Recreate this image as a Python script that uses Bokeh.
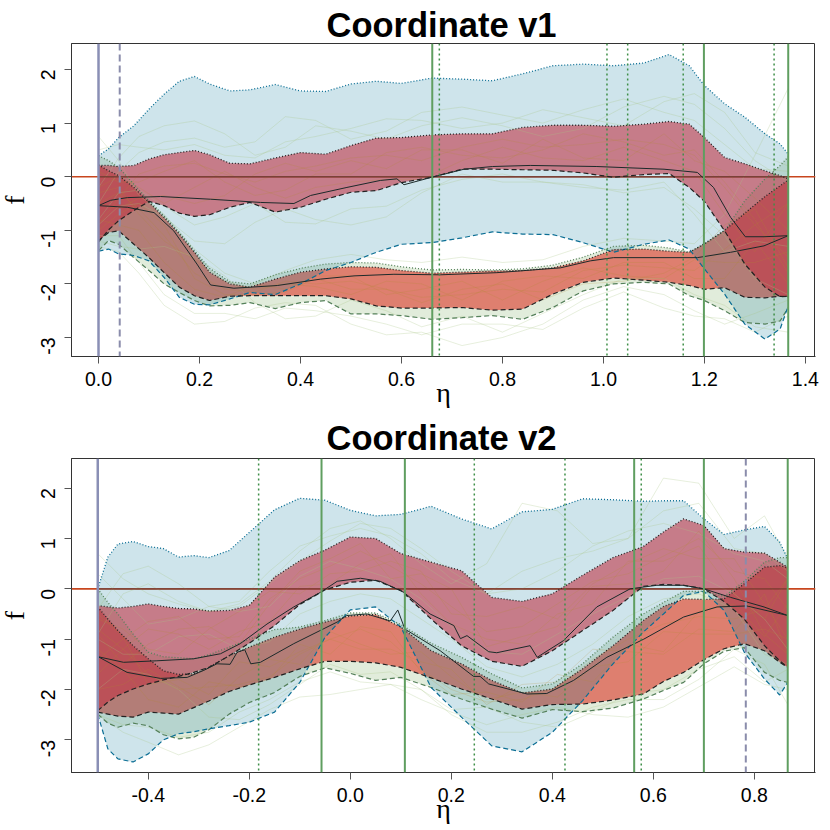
#!/usr/bin/env python
# coding: utf-8
import math
from bokeh.plotting import figure
from bokeh.layouts import column
from bokeh.models import FixedTicker, Range1d, Span
from bokeh.embed import file_html
from bokeh.resources import INLINE

y_ticks = [-3, -2, -1, 0, 1, 2]

# Coordinate v1
eta1 = [0, .02, .04, .07, .1, .13, .16, .19, .22, .26, .3, .35, .4, .45, .5, .55, .6, .66, .72, .78, .84, .9, .96,
        1.02, 1.08, 1.13, 1.17, 1.2, 1.24, 1.28, 1.32, 1.35, 1.366]
blue_up1 = [.39, .52, .73, .95, 1.26, 1.54, 1.78, 1.87, 1.73, 1.60, 1.62, 1.72, 1.60, 1.59, 1.73, 1.78, 1.74, 1.84,
            1.82, 1.79, 1.92, 2.07, 2.10, 2.07, 2.12, 2.28, 2.07, 1.70, 1.36, 1.11, .80, .61, .42]
blue_lo1 = [-1.39, -1.35, -1.44, -1.47, -1.57, -1.88, -2.25, -2.38, -2.39, -2.28, -2.16, -2.20, -2.0, -1.75, -1.60,
            -1.41, -1.26, -1.23, -1.14, -1.03, -1.07, -1.08, -1.23, -1.41, -1.26, -1.18, -1.35, -1.72, -2.19, -2.75,
            -3.03, -2.84, -2.41]
red_a_up1 = [.21, .21, .19, .21, .33, .41, .45, .49, .41, .25, .24, .35, .45, .42, .58, .72, .73, .78, .80, .80, .92,
             .96, .96, .94, .98, 1.03, .98, .73, .36, .24, .11, .02, -.04]
red_a_lo1 = [-1.22, -.99, -.82, -.63, -.46, -.54, -.68, -.74, -.71, -.57, -.48, -.66, -.57, -.42, -.29, -.26, -.11,
             -.01, .14, .14, .13, .12, .07, -.01, .04, .06, -.20, -.46, -1.01, -1.63, -2.06, -2.24, -2.23]
red_b_up1 = [.22, .11, .02, -.20, -.48, -.76, -1.07, -1.41, -1.78, -2.0, -2.06, -1.91, -1.78, -1.72, -1.68, -1.69,
             -1.75, -1.80, -1.78, -1.76, -1.75, -1.70, -1.57, -1.36, -1.35, -1.39, -1.41, -1.25, -1.0, -.68, -.37,
             -.17, -.06]
red_b_lo1 = [-1.19, -1.04, -1.01, -1.26, -1.51, -1.79, -2.06, -2.22, -2.31, -2.23, -2.22, -2.22, -2.22, -2.22, -2.28,
             -2.41, -2.45, -2.45, -2.44, -2.49, -2.47, -2.19, -1.97, -1.89, -1.93, -1.97, -2.03, -2.10, -2.07, -2.25,
             -2.26, -2.23, -2.24]
green_up1 = [.39, .30, .17, -.14, -.45, -.73, -1.04, -1.38, -1.71, -1.96, -2.0, -1.83, -1.71, -1.63, -1.60, -1.61,
             -1.68, -1.74, -1.73, -1.74, -1.72, -1.65, -1.50, -1.30, -1.28, -1.33, -1.41, -1.26, -1.01, -.45, -.04,
             .21, .37]
green_lo1 = [-1.38, -1.19, -1.26, -1.51, -1.75, -2.0, -2.16, -2.31, -2.41, -2.40, -2.35, -2.46, -2.35, -2.31, -2.56,
             -2.56, -2.59, -2.66, -2.63, -2.59, -2.66, -2.44, -2.13, -2.0, -1.97, -2.0, -2.22, -2.31, -2.50, -2.72,
             -2.75, -2.69, -2.44]
black_a_x1 = [0, .024, .057, .123, .222, .321, .387, .42, .492, .558, .591, .605, .66, .724, .78, .855, .987, 1.12,
              1.186, 1.218, 1.252, 1.281, 1.318, 1.366]
black_a_y1 = [-.54, -.44, -.39, -.37, -.42, -.48, -.50, -.35, -.20, -.07, -.04, -.15, -.01, .14, .19, .21, .19, .14,
              .08, -.20, -.76, -1.12, -1.12, -1.10]
black_b_x1 = [0, .057, .11, .149, .195, .222, .268, .354, .44, .506, .585, .677, .789, .915, .974, 1.02, 1.12, 1.186,
              1.252, 1.318, 1.366]
black_b_y1 = [-.54, -.57, -.67, -1.01, -1.63, -2.02, -2.08, -2.03, -1.91, -1.85, -1.82, -1.83, -1.79, -1.70, -1.57,
              -1.51, -1.51, -1.51, -1.41, -1.29, -1.10]
thin_x1 = [0, .04, .08, .13, .19, .25, .31, .37, .43, .5, .57, .64, .72, .8, .88, .96, 1.04, 1.12, 1.18, 1.24, 1.3, 1.366]
thin_pale1 = [
    [-.2, .35, .75, .95, 1.04, .8, .4, .55, .95, .85, .7, .95, 1.1, .95, .75, .9, 1.3, 1.5, 1.35, .9, .3, -.1],
    [-.5, .1, .45, .65, .72, .55, .65, 1.12, 1.05, .7, .85, 1.2, 1.3, 1.15, 1.0, 1.25, 1.45, 1.2, 1.05, .6, .15, .1],
    [.5, .6, .55, .5, .6, .4, .35, .65, .75, .9, 1.08, 1.05, .9, 1.0, 1.25, 1.1, .95, 1.4, 1.55, 1.2, .45, .2],
    [-.9, -.55, -.5, -.75, -1.2, -1.25, -.85, -.6, -.8, -.9, -.75, -.3, .05, -.1, -.1, -.2, -.25, -.1, -.7, -1.4, -1.2, -1.3],
    [-.8, -.3, -.25, -.55, -.9, -.75, -.5, -.85, -.88, -.6, -.55, -.25, -.05, .05, -.1, -.15, -.3, -.2, -.6, -1.1, -1.9, -2.2],
    [-1.3, -1.4, -1.8, -2.4, -2.75, -2.7, -2.45, -2.35, -2.4, -2.75, -2.95, -2.9, -3.15, -3.0, -2.75, -2.3, -2.05, -2.2, -2.5, -2.75, -2.55, -2.3],
    [-1.1, -1.1, -1.6, -2.2, -2.55, -2.55, -2.65, -2.45, -2.5, -2.6, -2.75, -2.95, -2.75, -2.75, -2.85, -2.45, -2.15, -2.45, -2.6, -2.65, -2.9, -2.6],
    [-1.2, -1.3, -1.35, -1.3, -1.5, -1.85, -2.35, -2.65, -2.6, -2.3, -2.5, -2.8, -2.6, -2.9, -2.55, -2.2, -1.9, -1.9, -2.2, -2.4, -2.8, -2.9],
    [.75, .3, -.35, -.7, -1.35, -1.8, -2.0, -1.75, -1.55, -1.45, -1.55, -1.6, -1.5, -1.6, -1.55, -1.3, -1.15, -1.2, -1.25, -.7, .4, 1.65],
]
thin_band1 = [
    [-.9, -.4, .05, .2, .25, .05, -.1, .1, .2, .35, .4, .3, .55, .7, .55, .6, .7, .6, .4, -.2, -.9, -1.5],
    [.1, -.1, -.1, .1, .3, -.1, -.35, -.25, .05, .05, .45, .55, .4, .35, .5, .8, .65, .4, .5, -.1, -.8, -1.8],
    [-.5, -.6, -.4, -.35, -.5, -.35, .05, .25, .1, .3, .15, .5, .5, .25, .7, .35, .3, .8, .3, .1, -.4, -1.0],
    [-.2, 0, -.2, -.5, -.2, .1, -.2, -.4, -.2, -.1, -.05, -.05, .3, .55, .35, .3, .55, .3, .1, -.7, -1.4, -.5],
    [-.5, -.3, -.6, -1.1, -1.8, -2.1, -2.15, -1.95, -2.0, -1.95, -2.1, -2.25, -2.2, -2.1, -2.15, -1.75, -1.65, -1.7, -1.75, -1.35, -.9, -.5],
    [-.8, -.9, -1.0, -1.6, -2.1, -2.25, -2.0, -2.1, -1.85, -1.85, -2.2, -2.1, -1.95, -2.3, -1.95, -1.7, -1.85, -1.9, -1.55, -1.6, -1.6, -1.4],
    [-.3, -.2, -.7, -1.2, -1.55, -1.95, -2.1, -2.0, -2.05, -2.2, -1.95, -2.0, -2.3, -1.95, -1.85, -1.9, -1.6, -1.6, -1.9, -1.9, -1.2, -2.0],
    [-1.0, -.7, -.5, -.9, -1.9, -2.2, -2.2, -2.15, -1.9, -2.1, -2.1, -2.35, -2.1, -2.0, -2.3, -2.0, -1.95, -1.8, -1.5, -.9, -.6, -1.7],
]
solid1 = [.661, 1.199, 1.366]
dotted1 = [.675, 1.007, 1.048, 1.158, 1.338]
dashed1 = [.042]
edge1 = [0]
x_ticks1 = [0, .2, .4, .6, .8, 1.0, 1.2, 1.4]
x_labels1 = ["0.0", "0.2", "0.4", "0.6", "0.8", "1.0", "1.2", "1.4"]

# Coordinate v2
eta2 = [-.5, -.48, -.46, -.43, -.4, -.37, -.34, -.31, -.28, -.24, -.2, -.15, -.1, -.05, 0, .05, .1, .16, .22, .28,
        .34, .40, .46, .52, .58, .62, .66, .70, .74, .78, .82, .85, .866]
blue_up2 = [0, .63, .89, .94, .84, .80, .63, .66, .62, .76, 1.12, 1.57, 1.80, 1.76, 1.56, 1.45, 1.48, 1.64, 1.39,
            1.19, 1.53, 1.58, 1.79, 1.77, 1.74, 1.75, 1.75, 1.39, 1.08, 1.17, 1.24, .93, .60]
blue_lo2 = [-2.49, -3.18, -3.38, -3.44, -3.28, -3.0, -2.88, -2.84, -2.78, -2.72, -2.65, -2.45, -1.86, -.96, -.42,
            -.36, -.76, -1.96, -2.55, -3.12, -3.24, -2.85, -2.22, -1.49, -.86, -.50, -.13, -.05, -.43, -1.26, -1.79,
            -2.11, -1.86]
red_a_up2 = [-.33, -.36, -.38, -.35, -.30, -.35, -.39, -.40, -.44, -.43, -.33, .23, .56, .77, 1.03, 1.0, .70, .53,
             .36, -.17, -.25, -.10, .27, .62, .84, 1.13, 1.39, 1.26, .80, .73, .71, .53, .43]
red_a_lo2 = [-2.42, -2.25, -2.12, -1.99, -1.89, -1.81, -1.74, -1.66, -1.56, -1.33, -1.08, -.73, -.31, -.02, .13, .17,
             -.03, -.60, -1.13, -1.44, -1.54, -1.23, -.83, -.43, .05, .09, .07, 0, -.25, -.60, -1.13, -1.43, -1.56]
red_b_up2 = [-.36, -.60, -.83, -1.13, -1.39, -1.63, -1.70, -1.69, -1.56, -1.33, -1.16, -.96, -.80, -.66, -.54, -.51,
             -.76, -1.23, -1.49, -1.82, -2.07, -1.99, -1.59, -1.13, -.63, -.35, -.20, -.21, -.20, .10, .43, .46, .42]
red_b_lo2 = [-2.45, -2.49, -2.53, -2.55, -2.45, -2.47, -2.49, -2.36, -2.23, -2.04, -1.91, -1.76, -1.59, -1.44, -1.44,
             -1.47, -1.56, -1.77, -1.99, -2.19, -2.39, -2.30, -2.29, -2.21, -2.09, -1.84, -1.66, -1.41, -1.19, -1.09,
             -1.23, -1.46, -1.56]
green_up2 = [0, -.27, -.50, -.90, -1.26, -1.35, -1.37, -1.39, -1.31, -1.16, -1.0, -.81, -.76, -.63, -.48, -.48, -.71,
             -1.08, -1.36, -1.69, -1.97, -1.89, -1.49, -.96, -.50, -.27, -.05, -.05, -.15, .15, .53, .62, .62]
green_lo2 = [-2.49, -2.67, -2.75, -2.67, -2.72, -2.90, -2.98, -2.95, -2.80, -2.49, -2.26, -2.06, -1.74, -1.57, -1.68,
             -1.82, -1.76, -1.96, -2.19, -2.39, -2.57, -2.40, -2.44, -2.37, -2.19, -2.02, -1.86, -1.49, -1.24, -1.17,
             -1.66, -1.82, -1.86]
black_a_x2 = [-.499, -.449, -.383, -.31, -.257, -.218, -.165, -.112, -.059, -.026, .02, .059, .106, .158, .205, .218,
              .231, .274, .29, .356, .37, .422, .488, .554, .607, .66, .7, .753, .819, .866]
black_a_y2 = [-1.35, -1.46, -1.43, -1.39, -1.29, -1.09, -.70, -.36, -.07, .15, .21, .15, -.07, -.50, -.73, -.99, -.93,
              -1.25, -1.27, -1.13, -1.36, -1.03, -.36, 0, .07, .07, 0, -.17, -.36, -.53]
black_b_x2 = [-.499, -.442, -.376, -.323, -.29, -.264, -.238, -.224, -.209, -.197, -.178, -.112, -.026, -.007, .033,
              .079, .094, .108, .178, .244, .257, .274, .35, .389, .442, .508, .581, .66, .726, .785, .866]
black_b_y2 = [-1.35, -1.66, -1.78, -1.76, -1.62, -1.49, -1.50, -1.26, -1.21, -1.49, -1.46, -1.09, -.66, -.53, -.50,
              -.64, -.42, -.80, -1.23, -1.74, -1.74, -1.89, -2.09, -2.08, -1.82, -1.36, -1.0, -.56, -.36, -.34, -.53]
thin_x2 = [-.5, -.45, -.4, -.34, -.28, -.22, -.16, -.1, -.04, .02, .08, .14, .2, .27, .34, .41, .48, .55, .62, .69, .76, .82, .866]
thin_pale2 = [
    [.7, .2, -.1, -.3, -.45, -.3, .15, .75, 1.2, 1.35, 1.0, .5, .1, .5, 1.7, 1.55, .9, 1.0, 2.2, 2.1, 1.0, 1.45, .6],
    [-.4, .3, .45, .1, -.35, -.25, .35, .85, 1.05, 1.2, 1.05, .7, .2, -.1, .35, .6, .75, 1.0, 1.55, 1.7, .8, .7, .35],
    [-.9, -.1, .1, -.25, -.45, -.35, .1, .55, .95, 1.3, 1.2, .8, .35, -.1, 0, .35, .85, 1.15, 1.3, 1.1, .7, .55, .2],
    [.3, -.2, -.7, -.6, -.35, -.45, -.35, .25, .55, .4, .2, -.2, -.75, -1.25, -1.3, -.9, -.5, -.15, .2, .25, -.1, -.6, -1.2],
    [-1.0, -1.3, -1.3, -.95, -.9, -1.2, -1.05, -.5, -.25, -.1, -.2, -.6, -1.0, -1.55, -1.75, -1.5, -1.1, -.55, -.2, -.1, -.4, -1.3, -1.5],
    [-2.5, -2.85, -3.05, -3.3, -3.1, -2.75, -2.4, -2.15, -2.1, -2.0, -1.9, -2.0, -2.5, -2.85, -2.85, -2.65, -2.35, -2.2, -2.2, -1.8, -1.2, -1.5, -2.3],
    [-2.5, -2.7, -2.75, -2.95, -2.85, -2.45, -2.2, -1.85, -1.65, -1.85, -1.9, -2.2, -2.45, -2.7, -2.5, -2.35, -2.5, -2.55, -2.35, -1.95, -1.55, -1.9, -2.0],
    [-2.0, -1.6, -1.7, -2.0, -2.55, -2.6, -2.3, -1.9, -1.5, -1.7, -1.65, -2.0, -2.4, -2.35, -2.65, -2.75, -2.45, -2.1, -2.0, -1.6, -1.35, -1.85, -1.6],
]
thin_band2 = [
    [-1.4, -1.0, -.65, -.55, -1.0, -.95, -.2, .2, .45, .75, .45, .1, -.35, -.85, -.75, -.3, .15, .3, .65, 1.0, .35, .2, -.4],
    [-.6, -.8, -1.2, -1.3, -.8, -.45, -.05, -.1, .3, .35, .55, .35, -.5, -.55, -.35, -.6, .1, .5, .8, .6, .6, -.3, -1.0],
    [-1.7, -1.2, -.8, -.9, -1.2, -.85, -.65, .05, .1, .5, .7, -.1, -.7, -1.0, -1.1, -.5, -.3, .55, .55, .85, -.1, -.6, .2],
    [-.9, -1.5, -1.1, -.8, -.75, -1.1, -.3, .35, .6, .9, .2, .3, 0, -1.15, -.95, -.75, .05, .1, .35, 1.15, .2, -.9, -1.3],
    [-.8, -1.2, -1.7, -2.0, -1.95, -1.9, -1.75, -1.3, -1.0, -.8, -1.05, -1.6, -2.0, -2.25, -2.2, -1.95, -1.4, -1.0, -.7, -.55, -.6, -.4, .2],
    [-2.0, -1.9, -1.6, -1.95, -2.3, -1.75, -1.4, -1.5, -.85, -1.1, -1.3, -1.25, -1.75, -2.2, -2.05, -2.15, -1.55, -1.45, -.85, -.9, -.9, -.8, -1.0],
    [-1.2, -1.6, -2.2, -2.35, -1.85, -1.95, -1.8, -1.1, -1.3, -.75, -.85, -1.65, -2.1, -2.05, -2.25, -1.7, -1.85, -1.1, -1.25, -.45, -.3, -.95, -.3],
    [-.5, -.95, -1.9, -1.8, -2.1, -1.45, -1.55, -1.25, -1.0, -1.2, -1.2, -1.45, -1.6, -2.3, -1.9, -1.85, -1.2, -1.25, -1.3, -.8, -.85, -.1, -1.3],
]
solid2 = [-.057, .108, .562, .7, .866]
dotted2 = [-.1815, .2455, .425, .576]
dashed2 = [.783]
edge2 = [-.5]
x_ticks2 = [-.4, -.2, 0, .2, .4, .6, .8]
x_labels2 = ["-0.4", "-0.2", "0.0", "0.2", "0.4", "0.6", "0.8"]


def create_fig(title, eta, blue_up, blue_lo, red_a_up, red_a_lo, red_b_up, red_b_lo, green_up, green_lo,
               black_a, black_b, thin_x, thin_pale, thin_band, solid, dotted, dashed, edge,
               x_ticks, x_labels, x_range, y_range, f_height, f_top, f_bottom, t_standoff):
    # the negative margin eats into the frame, so the width is 9 more than the 744 wanted
    fig = figure(frame_width=753, frame_height=f_height, x_range=Range1d(*x_range), y_range=Range1d(*y_range),
                 output_backend="svg", toolbar_location=None, title=title,
                 min_border_left=80, min_border_right=0, min_border_top=f_top, min_border_bottom=f_bottom,
                 margin=(0, 0, 0, -9))
    fig.grid.visible = False
    fig.outline_line_color = "#333333"
    fig.title.align = "left"
    fig.title.text_font = "Liberation Sans"
    fig.title.text_font_size = "34.5px"
    fig.title.text_font_style = "bold"
    fig.title.text_color = "black"
    fig.title.offset = 255
    fig.title.standoff = t_standoff

    fig.xaxis.ticker = FixedTicker(ticks=x_ticks)
    fig.xaxis.major_label_overrides = dict(zip(x_ticks, x_labels))
    fig.yaxis.ticker = FixedTicker(ticks=y_ticks)
    fig.yaxis.major_label_overrides = {t: str(t) for t in y_ticks}
    fig.yaxis.major_label_orientation = math.pi / 2
    fig.xaxis.axis_label = "η"
    fig.yaxis.axis_label = "f"
    for ax in [fig.xaxis, fig.yaxis]:
        ax.major_tick_out = 7
        ax.major_tick_in = 0
        ax.minor_tick_line_color = None
        ax.axis_line_color = "#333333"
        ax.major_tick_line_color = "#555555"
        ax.major_label_text_font = "Liberation Sans"
        ax.major_label_text_font_size = "19.5px"
        ax.major_label_text_color = "black"
        ax.axis_label_text_font = "Liberation Serif"
        ax.axis_label_text_font_size = "28px"
        ax.axis_label_text_font_style = "normal"
        ax.axis_label_text_color = "black"
    fig.xaxis.major_label_standoff = 8
    fig.xaxis.axis_label_standoff = -12
    fig.yaxis.major_label_standoff = 16
    fig.yaxis.axis_label_standoff = 2

    fig.add_layout(Span(location=0, dimension="width", line_color="#c8461e", line_width=1.6, level="underlay"))

    # bands, the blue one goes over the red ones
    fig.varea(eta, green_up, green_lo, fill_color="#6b9e4a", fill_alpha=0.2)
    fig.varea(eta, red_b_up, red_b_lo, fill_color="#dc3121", fill_alpha=0.58)
    fig.varea(eta, red_a_up, red_a_lo, fill_color="#f0202c", fill_alpha=0.58)
    fig.varea(eta, blue_up, blue_lo, fill_color="#0a7a9c", fill_alpha=0.2)

    for ys in thin_pale:
        fig.line(thin_x, ys, line_color="#a8c686", line_alpha=0.4, line_width=0.7)
    for ys in thin_band:
        fig.line(thin_x, ys, line_color="#b08a30", line_alpha=0.3, line_width=0.7)

    fig.line([eta[0], eta[-1]], [0, 0], line_color="#7a4238", line_width=1.4)

    fig.line(eta, green_up, line_color="#55805a", line_dash="1 2", line_width=1.3)
    fig.line(eta, green_lo, line_color="#55805a", line_dash="5 3", line_width=1.2)
    fig.line(eta, blue_up, line_color="#0b6e94", line_dash="1 2", line_width=1.3)
    fig.line(eta, blue_lo, line_color="#0b6e94", line_dash="5 3", line_width=1.2)
    for up, lo in [(red_a_up, red_a_lo), (red_b_up, red_b_lo)]:
        fig.line(eta, up, line_color="#222222", line_dash="1 2", line_width=1.3)
        fig.line(eta, lo, line_color="#222222", line_dash="5 3", line_width=1.2)

    fig.line(black_a[0], black_a[1], line_color="#1c2a2a", line_width=1)
    fig.line(black_b[0], black_b[1], line_color="#1c2a2a", line_width=1)

    for v in solid:
        fig.add_layout(Span(location=v, dimension="height", line_color="#5f9e60", line_width=2))
    for v in dotted:
        fig.add_layout(Span(location=v, dimension="height", line_color="#3f8f48", line_width=1.5, line_dash="2 3"))
    for v in dashed:
        fig.add_layout(Span(location=v, dimension="height", line_color="#8a8cab", line_width=2, line_dash="7 4"))
    for v in edge:
        fig.add_layout(Span(location=v, dimension="height", line_color="#8a8fb5", line_width=2.5))
    return fig


p1 = create_fig("Coordinate v1", eta1, blue_up1, blue_lo1, red_a_up1, red_a_lo1, red_b_up1, red_b_lo1,
                green_up1, green_lo1, (black_a_x1, black_a_y1), (black_b_x1, black_b_y1), thin_x1, thin_pale1,
                thin_band1, solid1, dotted1, dashed1, edge1, x_ticks1, x_labels1,
                (-.0535, 1.42), (-3.354, 2.485), 313, 43, 56, 0)
p2 = create_fig("Coordinate v2", eta2, blue_up2, blue_lo2, red_a_up2, red_a_lo2, red_b_up2, red_b_lo2,
                green_up2, green_lo2, (black_a_x2, black_a_y2), (black_b_x2, black_b_y2), thin_x2, thin_pale2,
                thin_band2, solid2, dotted2, dashed2, edge2, x_ticks2, x_labels2,
                (-.552, .921), (-3.65, 2.59), 314, 46, 50, 4)

open("out.html", "w").write(file_html(column(p1, p2, spacing=0), INLINE))
